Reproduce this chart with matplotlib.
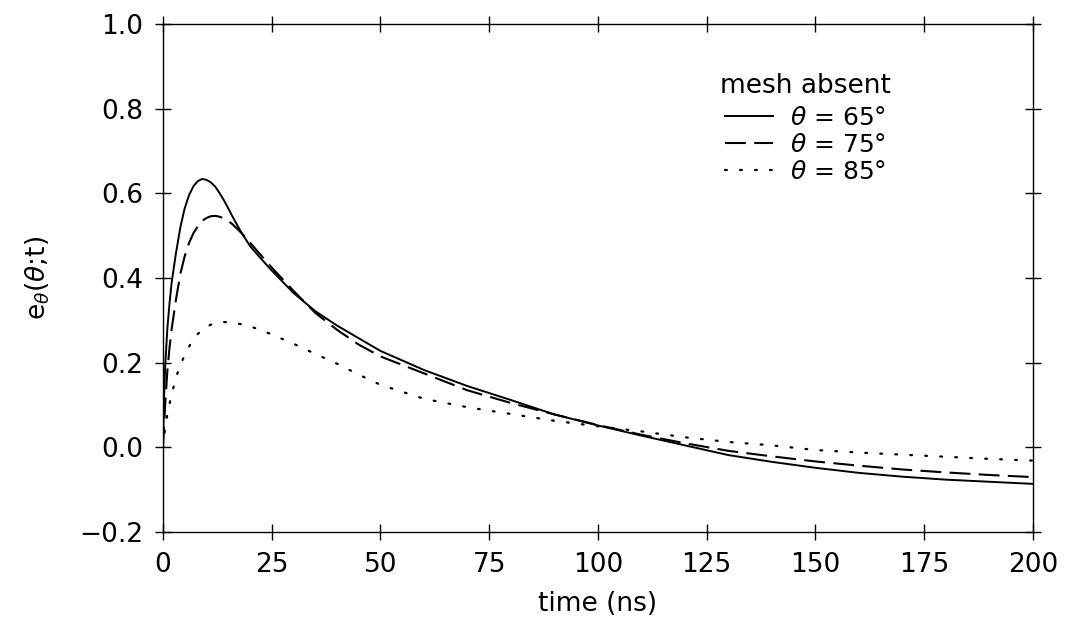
import numpy as np
import matplotlib
matplotlib.use("Agg")
import matplotlib.pyplot as plt

plt.rcParams['font.family'] = ['DejaVu Sans']
plt.rcParams['mathtext.fontset'] = 'dejavusans'
plt.rcParams['lines.scale_dashes'] = False

# time axis (ns)
t = [0, 0.25, 0.5, 1, 1.5, 2, 3, 4, 5, 6, 7, 8, 9, 10, 11, 12, 13, 14, 15, 16,
     18, 20, 22, 25, 30, 35, 40, 45, 50, 60, 70, 80, 90, 100, 110, 120, 130,
     140, 150, 160, 170, 180, 190, 200]

# theta = 65 deg
e65 = [0, 0.12, 0.19, 0.28, 0.34, 0.39, 0.46, 0.52, 0.565, 0.596, 0.617, 0.629,
       0.634, 0.632, 0.626, 0.616, 0.601, 0.584, 0.565, 0.545, 0.508, 0.476,
       0.452, 0.418, 0.365, 0.322, 0.288, 0.258, 0.228, 0.183, 0.145, 0.112,
       0.078, 0.052, 0.028, 0.005, -0.018, -0.034, -0.048, -0.060, -0.069,
       -0.076, -0.081, -0.086]

# theta = 75 deg
e75 = [0, 0.05, 0.10, 0.18, 0.235, 0.28, 0.35, 0.41, 0.452, 0.483, 0.506, 0.522,
       0.535, 0.542, 0.546, 0.547, 0.545, 0.541, 0.535, 0.527, 0.507, 0.484,
       0.46, 0.425, 0.37, 0.318, 0.278, 0.243, 0.215, 0.175, 0.135, 0.105,
       0.078, 0.053, 0.03, 0.01, -0.008, -0.021, -0.033, -0.043, -0.052,
       -0.059, -0.065, -0.07]

# theta = 85 deg
e85 = [0, 0.025, 0.045, 0.078, 0.103, 0.125, 0.165, 0.195, 0.218, 0.238, 0.255,
       0.268, 0.278, 0.285, 0.29, 0.293, 0.295, 0.296, 0.296, 0.295, 0.291,
       0.286, 0.279, 0.267, 0.245, 0.221, 0.198, 0.172, 0.148, 0.115, 0.095,
       0.079, 0.063, 0.05, 0.038, 0.024, 0.013, 0.005, -0.006, -0.012, -0.017,
       -0.022, -0.027, -0.031]

xticks = [0, 25, 50, 75, 100, 125, 150, 175, 200]
yticks = [-0.2, 0.0, 0.2, 0.4, 0.6, 0.8, 1.0]

fig = plt.figure(figsize=(10.68, 6.32), dpi=100)
ax = fig.add_axes([0.1526, 0.158, 0.8144, 0.804])

ax.plot(t, e65, color='black', lw=1.4, label=r'$\theta$ = 65°')
ax.plot(t, e75, color='black', lw=1.5, linestyle=(0, (15, 6)), label=r'$\theta$ = 75°')
ax.plot(t, e85, color='black', lw=1.6, linestyle=(0, (1.3, 9.5)),
        dash_capstyle='round', label=r'$\theta$ = 85°')

ax.set_xlim(0, 200)
ax.set_ylim(-0.2, 1.0)
ax.set_xticks(xticks)
ax.set_yticks(yticks)
ax.set_yticklabels([f'{v:.1f}'.replace('-', '\u2212') for v in yticks])
ax.tick_params(direction='inout', length=12, width=1, pad=8, labelsize=19,
               top=True, right=True)
for s in ax.spines.values():
    s.set_linewidth(1)

ax.set_xlabel('time (ns)', fontsize=19, labelpad=10)
ax.set_ylabel(r'e$_{\theta}$($\theta$;t)', fontsize=19, labelpad=20)

fig.text(720 / 1068, 1 - 93 / 632, 'mesh absent', fontsize=19, va='baseline')
leg = ax.legend(loc='upper left',
                bbox_to_anchor=(725 / 1068, 1 - 106 / 632),
                bbox_transform=fig.transFigure, frameon=False, fontsize=18,
                handlelength=1.9, handletextpad=0.7,
                labelspacing=0.12, borderpad=0, borderaxespad=0)

fig.savefig('out.png', dpi=100)
